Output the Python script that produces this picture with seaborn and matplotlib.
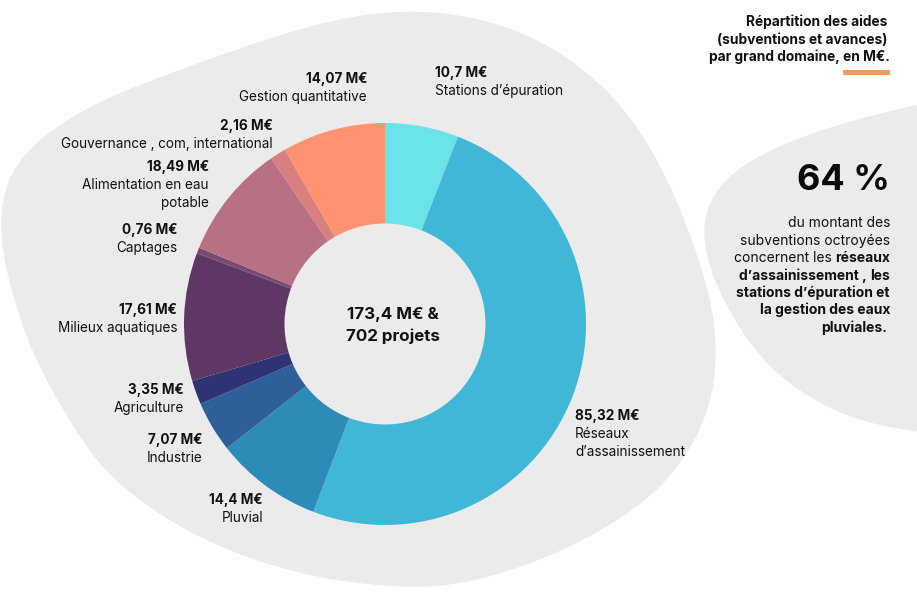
import numpy as np
import matplotlib
matplotlib.use("Agg")
import matplotlib.pyplot as plt
from matplotlib.path import Path
from matplotlib.patches import PathPatch, Rectangle
import seaborn as sns

W, H = 917, 601

domaines = ["Stations d’épuration", "Réseaux\nd’assainissement", "Pluvial", "Industrie",
            "Agriculture", "Milieux aquatiques", "Captages", "Alimentation en eau\npotable",
            "Gouvernance , com, international", "Gestion quantitative"]
# values printed on the labels
montants = [10.7, 85.32, 14.4, 7.07, 3.35, 17.61, 0.76, 18.49, 2.16, 14.07]
# slice sizes: the drawn wedges don't quite follow the printed
# values (stations and alimentation are drawn smaller than labelled)
parts = [10.1, 85.3, 14.7, 7.0, 3.3, 17.6, 0.8, 15.75, 2.2, 14.2]
couleurs = ["#6AE3E8", "#40B7D7", "#2D8BBA", "#2E5F9B", "#2E3473",
            "#5E3764", "#7B4A73", "#B87085", "#D87F80", "#FF9270"]

# label anchor: x, y of the bold line, alignment
lab_x = [435, 575, 263, 203, 184, 177, 177, 209, 273, 367]
lab_y = [73, 416, 500, 440, 390, 310, 230, 167, 126, 79]
lab_ha = ["left", "left", "right", "right", "right", "right", "right", "right", "right", "right"]

blob_main = [(413, 10), (460, 14), (495, 22), (546, 42), (596, 78), (636, 122), (670, 183),
             (695, 247), (712, 300), (719, 367), (704, 429), (662, 490), (594, 536), (527, 566),
             (460, 585), (417, 589), (333, 581), (267, 565), (200, 539), (150, 509), (100, 469),
             (66, 415), (38, 367), (13, 300), (-3, 227), (6, 173), (36, 139), (98, 101),
             (200, 62), (300, 28), (367, 13)]
blob_right = [(1000, 85), (917, 105), (860, 118), (793, 139), (734, 168), (705, 198), (699, 230),
              (706, 262), (725, 305), (745, 339), (776, 376), (827, 409), (877, 427), (917, 431),
              (1000, 445), (1060, 260)]

sns.set_theme(style="white")
plt.rcParams["font.family"] = ["Inter", "DejaVu Sans"]
INK = "#111111"
GREY = "#EBEBEB"


def smooth(pts, win=150):
    # resample the closed outline by arc length, then run a circular hann filter over it
    pts = np.array(pts + pts[:1], float)
    s = np.r_[0, np.cumsum(np.hypot(*np.diff(pts, axis=0).T))]
    n = int(s[-1])
    u = np.linspace(0, s[-1], n, endpoint=False)
    kern = np.hanning(win)
    kern /= kern.sum()
    xy = []
    for c in pts.T:
        v = np.interp(u, s, c)
        v = np.convolve(np.r_[v[-win:], v, v[:win]], kern, mode="same")[win:-win]
        xy.append(v)
    xy = np.array(xy).T
    return Path(np.vstack([xy, xy[:1]]), closed=True)


fig = plt.figure(figsize=(W / 100, H / 100), dpi=100, facecolor="white")
bg = fig.add_axes([0, 0, 1, 1])
bg.set_xlim(0, W)
bg.set_ylim(H, 0)
bg.axis("off")

bg.add_patch(PathPatch(smooth(blob_main), fc=GREY, ec="none"))
bg.add_patch(PathPatch(smooth(blob_right), fc=GREY, ec="none"))

cx, cy, r = 385, 324, 201
pie_ax = fig.add_axes([(cx - r) / W, 1 - (cy + r) / H, 2 * r / W, 2 * r / H])
pie_ax.pie(parts, colors=sns.color_palette(couleurs), startangle=90, counterclock=False,
           radius=1, wedgeprops=dict(width=0.5, linewidth=0))
pie_ax.set_xlim(-1, 1)
pie_ax.set_ylim(-1, 1)

FS = 9.75
for nom, val, x, y, ha in zip(domaines, montants, lab_x, lab_y, lab_ha):
    txt = f"{val:g}".replace(".", ",") + " M€"
    bg.text(x, y, txt, ha=ha, va="center", fontsize=FS, fontweight="bold", color=INK, zorder=5)
    for k, ligne in enumerate(nom.split("\n")):
        bg.text(x, y + 18 + 17.5 * k, ligne, ha=ha, va="center", fontsize=FS, color=INK, zorder=5)

bg.text(393, 314, "173,4 M€ &", ha="center", va="center", fontsize=12.2, fontweight="bold", color=INK, zorder=5)
bg.text(393, 336, "702 projets", ha="center", va="center", fontsize=12.2, fontweight="bold", color=INK, zorder=5)

for ligne, y, x in [("Répartition des aides", 22, 887), ("(subventions et avances)", 40, 887),
                    ("par grand domaine, en M€.", 57, 890)]:
    bg.text(x, y, ligne, ha="right", va="center", fontsize=9.9, fontweight="bold", color=INK)
bg.add_patch(Rectangle((843, 70), 47, 5, fc="#FF9A5A", ec="none"))

bg.text(890, 180, "64 %", ha="right", va="center", fontsize=26, fontweight="bold", color="#0A0A0A")

FR = 10
bg.text(890, 223, "du montant des", ha="right", va="center", fontsize=FR, color=INK)
bg.text(890, 241, "subventions octroyées", ha="right", va="center", fontsize=FR, color=INK)
t = bg.text(890, 258, "réseaux", ha="right", va="center", fontsize=FR, fontweight="bold", color=INK)
fig.canvas.draw()
x0 = bg.transData.inverted().transform(t.get_window_extent().get_points())[0, 0]
bg.text(x0 - 3, 258, "concernent les", ha="right", va="center", fontsize=FR, color=INK)
t = bg.text(890, 276, "les", ha="right", va="center", fontsize=FR, fontweight="bold", color=INK)
for ligne, y, x in [("d’assainissement ,", 276, None), ("stations d’épuration et", 293, 890),
                    ("la gestion des eaux", 310, 890), ("pluviales.", 328, 887)]:
    if x is None:
        x0 = bg.transData.inverted().transform(t.get_window_extent().get_points())[0, 0]
        x = x0 - 3
    bg.text(x, y, ligne, ha="right", va="center", fontsize=FR, fontweight="bold", color=INK)

fig.savefig("out.png", dpi=100, facecolor="white")
